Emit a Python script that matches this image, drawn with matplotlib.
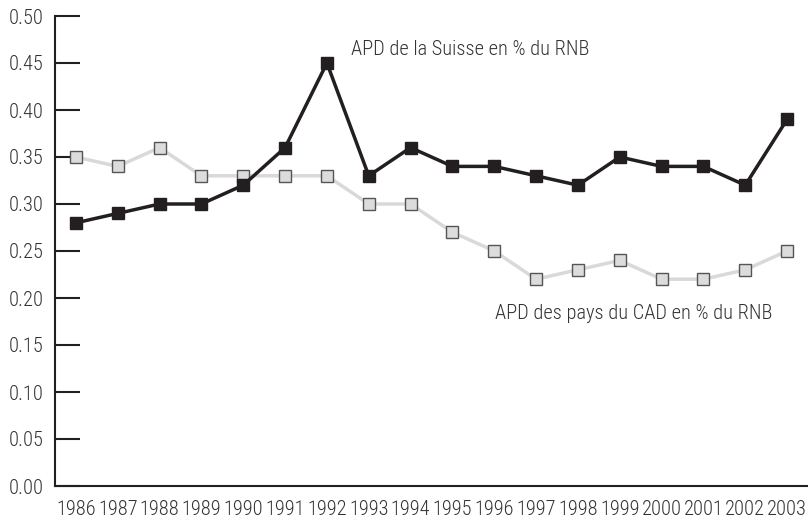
import matplotlib
matplotlib.use('Agg')
import matplotlib.pyplot as plt
import numpy as np

# Données
annees = list(range(1986, 2004))
suisse = [0.28, 0.29, 0.30, 0.30, 0.32, 0.36, 0.45, 0.33, 0.36, 0.34,
          0.34, 0.33, 0.32, 0.35, 0.34, 0.34, 0.32, 0.39]
cad = [0.35, 0.34, 0.36, 0.33, 0.33, 0.33, 0.33, 0.30, 0.30, 0.27,
       0.25, 0.22, 0.23, 0.24, 0.22, 0.22, 0.23, 0.25]
yticks = np.arange(0, 0.501, 0.05)

plt.rcParams['font.family'] = ['Roboto Condensed', 'Archivo Narrow', 'DejaVu Sans']
plt.rcParams['font.weight'] = 300
sombre = '#231f20'
texte = '#333333'
taille = 14.7

fig = plt.figure(figsize=(8.08, 5.2), dpi=100)
ax = fig.add_axes([55 / 808, 34 / 520, 753 / 808, 470 / 520])

ax.plot(annees, cad, color='#d9d9d9', linewidth=2.5, marker='s', markersize=8,
        markerfacecolor='#dcdcdc', markeredgecolor='#555555', markeredgewidth=1, zorder=2)
ax.plot(annees, suisse, color=sombre, linewidth=2.5, marker='s', markersize=8.5,
        markerfacecolor=sombre, markeredgecolor=sombre, zorder=3)

ax.text(1992.58, 0.464, 'APD de la Suisse en % du RNB', fontsize=taille, color=texte,
        ha='left', va='center')
ax.text(1996.02, 0.184, 'APD des pays du CAD en % du RNB', fontsize=taille, color=texte,
        ha='left', va='center')

ax.set_xlim(1985.5, 2003.5)
ax.set_ylim(0, 0.5)
ax.set_xticks(annees)
ax.set_xticklabels([str(a) for a in annees])
ax.set_yticks(yticks)
ax.set_yticklabels(['%.2f' % v for v in yticks])

ax.spines['top'].set_visible(False)
ax.spines['right'].set_visible(False)
ax.spines['left'].set_color(sombre)
ax.spines['bottom'].set_color(sombre)
ax.spines['left'].set_linewidth(1.5)
ax.spines['bottom'].set_linewidth(1.5)
ax.tick_params(axis='y', direction='in', length=18, width=1.5, color=sombre,
               labelsize=taille, labelcolor=texte, pad=8)
ax.tick_params(axis='x', length=0, labelsize=taille, labelcolor=texte, pad=10)

fig.savefig('out.png', dpi=100)
